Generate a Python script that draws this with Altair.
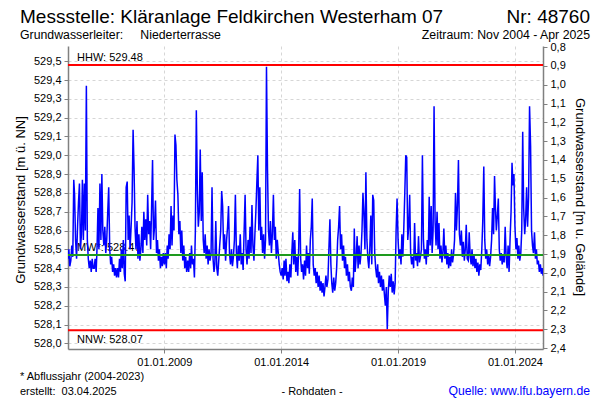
import altair as alt
import pandas as pd

FONT = "Liberation Sans"

# Reference levels (m ü. NN)
HHW = 529.48
NNW = 528.07
MW = 528.47
GELAENDE = 530.375  # ground level used for the right axis (m u. Gelände)

# Semi-monthly readings (1st and 16th of each month)
v2004 = [528.45, 528.50, 528.41]  # Nov 16, Dec 1, Dec 16
v2005 = [528.44, 528.52, 528.46, 528.87, 528.79, 528.55, 528.45, 528.62, 528.75, 528.85, 528.50, 528.58,
         528.87, 528.55, 528.85, 528.60, 529.37, 528.55, 528.45, 528.40, 528.44, 528.38, 528.45, 528.40]
v2006 = [528.40, 528.45, 528.38, 528.52, 528.72, 528.50, 528.85, 528.55, 528.90, 528.60, 528.52, 528.62,
         528.48, 528.55, 528.70, 528.83, 528.50, 528.42, 528.46, 528.38, 528.42, 528.36, 528.40, 528.35]
v2007 = [528.40, 528.35, 528.45, 528.38, 528.50, 528.40, 528.55, 528.37, 528.33, 528.83, 528.86, 528.55,
         528.68, 528.50, 528.62, 528.75, 529.135, 528.93, 528.62, 528.50, 528.65, 528.45, 528.58, 528.44]
v2008 = [528.50, 528.62, 528.48, 528.70, 528.55, 528.66, 528.52, 528.79, 528.58, 528.65, 528.50, 528.72,
         528.975, 528.55, 528.62, 528.76, 528.48, 528.55, 528.44, 528.50, 528.40, 528.46, 528.41, 528.48]
v2009 = [528.42, 528.48, 528.40, 528.52, 528.45, 528.58, 528.50, 528.73, 528.52, 528.68, 528.60, 529.11,
         529.055, 528.87, 528.79, 528.58, 528.65, 528.48, 528.60, 528.44, 528.52, 528.40, 528.46, 528.38]
v2010 = [528.44, 528.38, 528.48, 528.40, 528.52, 528.42, 528.45, 528.35, 528.60, 529.24, 528.81, 528.62,
         528.70, 529.03, 528.65, 528.91, 528.55, 528.48, 528.58, 528.45, 528.52, 528.42, 528.50, 528.44]
v2011 = [528.48, 528.83, 528.45, 528.38, 528.42, 528.65, 528.40, 528.36, 528.44, 528.52, 528.60, 528.81,
         528.73, 528.50, 528.58, 528.44, 528.55, 528.62, 528.73, 528.48, 528.42, 528.50, 528.41, 528.46]
v2012 = [528.55, 528.79, 528.48, 528.40, 528.52, 528.44, 528.58, 528.42, 528.48, 528.39, 528.60, 528.79,
         528.50, 528.42, 528.55, 528.45, 528.62, 528.48, 528.735, 528.52, 528.44, 528.58, 528.70, 528.85]
v2013 = [529.00, 528.60, 528.83, 528.55, 528.62, 528.48, 528.58, 528.45, 528.55, 529.47, 528.92, 528.60,
         528.52, 528.65, 528.48, 528.58, 528.79, 528.55, 528.62, 528.45, 528.55, 528.48, 528.42, 528.38]
v2014 = [528.36, 528.40, 528.34, 528.44, 528.36, 528.45, 528.33, 528.38, 528.32, 528.42, 528.35, 528.48,
         528.59, 528.42, 528.55, 528.38, 528.46, 528.36, 528.50, 528.82, 528.45, 528.38, 528.42, 528.34]
v2015 = [528.44, 528.36, 528.52, 528.40, 528.48, 528.37, 528.55, 528.62, 528.77, 528.42, 528.36, 528.40,
         528.32, 528.38, 528.30, 528.36, 528.28, 528.33, 528.27, 528.32, 528.25, 528.30, 528.36, 528.30]
v2016 = [528.34, 528.50, 528.66, 528.42, 528.32, 528.27, 528.35, 528.28, 528.32, 528.40, 528.55, 528.62,
         528.73, 528.50, 528.58, 528.44, 528.52, 528.40, 528.46, 528.36, 528.42, 528.33, 528.38, 528.30]
v2017 = [528.28, 528.35, 528.30, 528.61, 528.38, 528.45, 528.57, 528.40, 528.52, 528.42, 528.48, 528.60,
         528.80, 528.69, 528.50, 528.91, 528.55, 528.45, 528.40, 528.50, 528.68, 528.42, 528.79, 528.76]
v2018 = [528.48, 528.40, 528.35, 528.42, 528.32, 528.38, 528.30, 528.36, 528.28, 528.34, 528.26, 528.20,
         528.30, 528.075, 528.28, 528.36, 528.30, 528.37, 528.27, 528.33, 528.26, 528.32, 528.60, 528.77]
v2019 = [528.55, 528.45, 528.50, 528.42, 528.58, 528.46, 528.62, 528.80, 529.00, 528.99, 528.55, 528.62,
         528.79, 528.48, 528.42, 528.46, 528.40, 528.64, 528.44, 528.48, 528.41, 528.57, 528.43, 528.46]
v2020 = [528.50, 529.00, 528.55, 528.45, 528.50, 528.42, 528.55, 528.46, 528.78, 528.52, 528.73, 528.48,
         528.60, 529.26, 528.65, 528.52, 528.70, 528.50, 528.64, 528.45, 528.52, 528.43, 528.48, 528.61]
v2021 = [528.45, 528.52, 528.42, 528.48, 528.40, 528.46, 528.41, 528.50, 528.43, 528.47, 528.55, 528.80,
         528.60, 528.73, 528.975, 528.58, 528.52, 528.60, 528.46, 528.54, 528.44, 528.50, 528.63, 528.45]
v2022 = [528.44, 528.59, 528.46, 528.42, 528.50, 528.41, 528.47, 528.40, 528.45, 528.38, 528.43, 528.36,
         528.42, 528.39, 528.50, 528.65, 528.94, 528.55, 528.45, 528.50, 528.42, 528.47, 528.41, 528.46]
v2023 = [528.55, 528.72, 528.58, 528.89, 528.73, 528.60, 528.68, 528.77, 528.50, 528.44, 528.48, 528.42,
         528.47, 528.43, 528.62, 528.46, 528.40, 528.52, 528.38, 528.55, 528.70, 528.96, 528.84, 528.90]
v2024 = [528.62, 528.50, 528.56, 528.45, 528.52, 528.44, 528.48, 528.60, 529.125, 528.72, 528.58, 528.66,
         528.83, 528.62, 528.78, 529.26, 529.05, 528.60, 528.52, 528.48, 528.59, 528.45, 528.50, 528.42]
v2025 = [528.44, 528.38, 528.42, 528.37, 528.40, 528.36]

series = {2004: v2004, 2005: v2005, 2006: v2006, 2007: v2007, 2008: v2008, 2009: v2009,
          2010: v2010, 2011: v2011, 2012: v2012, 2013: v2013, 2014: v2014, 2015: v2015,
          2016: v2016, 2017: v2017, 2018: v2018, 2019: v2019, 2020: v2020, 2021: v2021,
          2022: v2022, 2023: v2023, 2024: v2024, 2025: v2025}

rows = []
for year, vals in series.items():
    if year == 2004:
        slots = [(11, 16), (12, 1), (12, 16)]
    else:
        slots = [(m, d) for m in range(1, 13) for d in (1, 16)]
    for (m, d), v in zip(slots, vals):
        rows.append({"date": f"{year}-{m:02d}-{d:02d}", "level": v})
df = pd.DataFrame(rows)

def ms(s):
    return int(pd.Timestamp(s, tz="UTC").value // 10**6)

x_years = ["2009-01-01", "2014-01-01", "2019-01-01", "2024-01-01"]
x_scale = alt.Scale(type="utc", domain=[ms("2004-11-18"), ms("2025-03-14")])
x_axis = alt.Axis(values=[ms(s) for s in x_years], labelExpr="utcFormat(datum.value, '%d.%m.%Y')",
                  title=None, grid=True, gridDash=[3, 3], gridColor="#d6d6d6",
                  domainColor="#808080", domainWidth=1.5, tickColor="#808080", tickSize=4,
                  labelFont=FONT, labelFontSize=11, labelColor="#000000", labelPadding=3)

left_ticks = [round(528.0 + i * 0.1, 1) for i in range(16)]
y_scale = alt.Scale(domain=[527.97, 529.581], nice=False, zero=False)
y_axis = alt.Axis(values=left_ticks, labelExpr="replace(format(datum.value, '.1f'), '.', ',')",
                  title=None, grid=True, gridDash=[3, 3], gridColor="#d6d6d6",
                  domainColor="#808080", domainWidth=1.5, tickColor="#808080", tickSize=4,
                  labelFont=FONT, labelFontSize=11, labelColor="#000000", labelPadding=3)

right_ticks = [round(0.8 + i * 0.1, 1) for i in range(17)]
depth_scale = alt.Scale(domain=[0.794, 2.405], reverse=True, nice=False, zero=False)
depth_axis = alt.Axis(orient="right", values=right_ticks,
                      labelExpr="replace(format(datum.value, '.1f'), '.', ',')",
                      title=None, grid=False, domainColor="#808080", domainWidth=1.5,
                      tickColor="#808080", tickSize=4, labelFont=FONT, labelFontSize=11,
                      labelColor="#000000", labelPadding=3)

X = alt.X("date:T", scale=x_scale, axis=x_axis)
Y = alt.Y("level:Q", scale=y_scale, axis=y_axis)

refs = pd.DataFrame({
    "level": [HHW, NNW, MW],
    "label": ["HHW: 529.48", "NNW: 528.07", "MW*: 528.47"],
    "color": ["#ff0000", "#ff0000", "#1e9a1e"],
    "pos": ["above", "below", "above"],
})

base_axes = alt.Chart(df).mark_line(opacity=0).encode(x=X, y=Y)

labels_above = alt.Chart(refs).transform_filter("datum.pos == 'above'").mark_text(
    align="left", baseline="alphabetic", dy=-4, font=FONT, fontSize=11, color="#000000"
).encode(x=alt.value(9), y=Y, text="label:N")

labels_below = alt.Chart(refs).transform_filter("datum.pos == 'below'").mark_text(
    align="left", baseline="top", dy=4, font=FONT, fontSize=11, color="#000000"
).encode(x=alt.value(9), y=Y, text="label:N")

line = alt.Chart(df).mark_line(color="#0000ff", strokeWidth=1.5, clip=True).encode(x=X, y=Y)

ref_rules = alt.Chart(refs).mark_rule(strokeWidth=2).encode(
    y=Y, color=alt.Color("color:N", scale=None)
)

main = alt.layer(base_axes, labels_above, labels_below, line, ref_rules)

depth_df = pd.DataFrame({"depth": [0.8, 2.4]})
depth_layer = alt.Chart(depth_df).mark_point(opacity=0).encode(
    y=alt.Y("depth:Q", scale=depth_scale, axis=depth_axis)
)

def txt(s, x, y, size, align="left", color="#000000", angle=0, baseline="alphabetic"):
    return alt.Chart(pd.DataFrame({"t": [s]})).mark_text(
        align=align, baseline=baseline, font=FONT, fontSize=size, color=color, angle=angle
    ).encode(x=alt.value(x), y=alt.value(y), text="t:N")

NB = "\u00a0"
texts = [
    txt("Messstelle: Kläranlage Feldkirchen Westerham 07", -48, -23, 19),
    txt("Nr: 48760", 522, -23, 19, align="right"),
    txt("Grundwasserleiter:" + NB * 5 + "Niederterrasse", -48, -7, 12.3),
    txt("Zeitraum: Nov 2004 - Apr 2025", 522, -7, 12.3, align="right"),
    txt("* Abflussjahr (2004-2023)", -48, 334, 11),
    txt("erstellt:" + NB * 2 + "03.04.2025", -48, 349, 11),
    txt("- Rohdaten -", 244, 349, 11, align="center"),
    txt("Quelle: www.lfu.bayern.de", 522, 349, 12.2, align="right", color="#0000ff"),
    txt("Grundwasserstand [m ü. NN]", -47, 154, 13, align="center", angle=270, baseline="middle"),
    txt("Grundwasserstand [m u. Gelände]", 512, 151, 13, align="center", angle=90, baseline="middle"),
]

chart = alt.layer(main, depth_layer, *texts).resolve_scale(y="independent").properties(
    width=475, height=303,
    autosize=alt.AutoSizeParams(type="none"),
    padding={"left": 68, "top": 46, "right": 57, "bottom": 51},
    background="#ffffff",
).configure_view(stroke=None)

chart.save("out.html", embed_options={"renderer": "svg", "actions": False})
